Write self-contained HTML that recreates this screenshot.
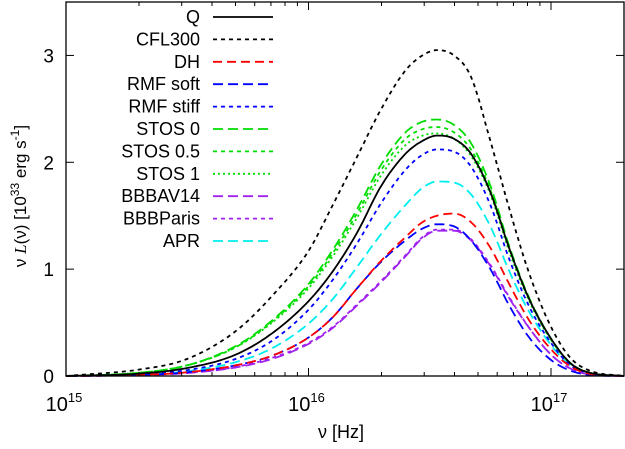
<!DOCTYPE html>
<html><head><meta charset="utf-8"><style>
body{margin:0;background:#fff}
svg text{font-family:"Liberation Sans",sans-serif;fill:#000}
</style></head><body>
<svg id="chart" width="625" height="444" viewBox="0 0 625 444" xmlns="http://www.w3.org/2000/svg">
<g id="curves"></g>
<rect x="66" y="2" width="558" height="374" fill="none" stroke="#000" stroke-width="1.3"/>
<g id="ticks"></g>
<g id="legend"></g>
<text x="341" y="438" font-size="18" text-anchor="middle">ν [Hz]</text>
<text transform="translate(26,196) rotate(-90)" font-size="17" text-anchor="middle">ν <tspan font-family="Liberation Serif" font-style="italic">L</tspan>(ν) [10<tspan font-size="12" dy="-7">33</tspan><tspan dy="7"> erg s</tspan><tspan font-size="12" dy="-7">-1</tspan><tspan dy="7">]</tspan></text>
</svg>
<script>
const logNu = [15,15.3,15.5,15.7,15.85,16,16.1,16.2,16.3,16.4,16.47,16.53,16.6,16.67,16.75,16.83,16.91,17,17.08,17.16,17.3];
const seriesNames = ["Q","CFL300","DH","RMF soft","RMF stiff","STOS 0","STOS 0.5","STOS 1","BBBAV14","BBBParis","APR"];
const vQ       = [0,0.022,0.075,0.2,0.4,0.7,0.98,1.34,1.78,2.08,2.2,2.25,2.22,2.08,1.72,1.18,0.72,0.35,0.12,0.03,0];
const vCFL300  = [0,0.06,0.16,0.42,0.75,1.17,1.6,2.05,2.5,2.86,3.0,3.05,3.0,2.8,2.2,1.55,0.96,0.46,0.17,0.05,0];
const vDH      = [0,0.01,0.035,0.1,0.19,0.36,0.55,0.82,1.08,1.3,1.44,1.5,1.52,1.44,1.2,0.85,0.52,0.25,0.09,0.02,0];
const vRMFsoft = [0,0.01,0.035,0.1,0.19,0.36,0.55,0.82,1.07,1.27,1.38,1.42,1.4,1.27,1.0,0.65,0.36,0.15,0.05,0.01,0];
const vRMFstiff= [0,0.016,0.055,0.16,0.33,0.62,0.9,1.24,1.62,1.93,2.07,2.12,2.1,1.96,1.6,1.08,0.65,0.31,0.1,0.025,0];
const vSTOS0   = [0,0.03,0.1,0.28,0.52,0.86,1.18,1.56,1.98,2.28,2.38,2.4,2.35,2.18,1.78,1.2,0.73,0.35,0.12,0.03,0];
const vSTOS05  = [0,0.03,0.1,0.27,0.51,0.84,1.15,1.52,1.93,2.22,2.31,2.33,2.28,2.12,1.74,1.18,0.72,0.34,0.12,0.03,0];
const vSTOS1   = [0,0.03,0.1,0.27,0.5,0.82,1.12,1.48,1.88,2.16,2.25,2.27,2.22,2.06,1.7,1.15,0.7,0.34,0.12,0.03,0];
const vAV14    = [0,0.008,0.028,0.08,0.16,0.3,0.45,0.66,0.88,1.12,1.29,1.36,1.36,1.27,1.03,0.72,0.45,0.2,0.07,0.015,0];
const vParis   = [0,0.009,0.03,0.085,0.17,0.31,0.46,0.67,0.89,1.13,1.3,1.37,1.37,1.28,1.04,0.73,0.45,0.2,0.07,0.015,0];
const vAPR     = [0,0.013,0.045,0.13,0.26,0.49,0.72,1.02,1.33,1.6,1.76,1.82,1.81,1.7,1.4,0.97,0.6,0.29,0.1,0.025,0];
const yTicks = [0,1,2,3];
const xDecades = [15,16,17];

const seriesVals=[vQ,vCFL300,vDH,vRMFsoft,vRMFstiff,vSTOS0,vSTOS05,vSTOS1,vAV14,vParis,vAPR];
const styles=[["#000","",1.8],["#000","4,4",1.8],["#f00","9,5",1.8],["#00f","10,5",1.8],["#00f","4,4",1.8],["#0d0","10,5",1.8],["#0d0","4,4",1.8],["#0d0","2,3",1.8],["#a020f0","10,5",1.8],["#a020f0","4,4",1.8],["#0ee","10,5",1.8]];
const NS="http://www.w3.org/2000/svg";
const X0=66,X1=624,Y0=376,Y1=2,LMIN=15,LMAX=15+Math.log10(200),VMAX=3.5;
const xs=l=>X0+(l-LMIN)/(LMAX-LMIN)*(X1-X0);
const ys=v=>Y0-v/VMAX*(Y0-Y1);
function mk(t,a,p){const e=document.createElementNS(NS,t);for(const k in a)e.setAttribute(k,a[k]);p.appendChild(e);return e;}
function pathFor(vals){
  const n=logNu.length,x=logNu,y=vals,d=[],m=new Array(n);
  for(let i=0;i<n-1;i++)d.push((y[i+1]-y[i])/(x[i+1]-x[i]));
  m[0]=d[0];m[n-1]=d[n-2];
  for(let i=1;i<n-1;i++){m[i]=(d[i-1]*d[i]<=0)?0:(d[i-1]+d[i])/2;}
  for(let i=0;i<n-1;i++){
    if(d[i]===0){m[i]=0;m[i+1]=0;continue;}
    const a=m[i]/d[i],b=m[i+1]/d[i],s=a*a+b*b;
    if(s>9){const t=3/Math.sqrt(s);m[i]=t*a*d[i];m[i+1]=t*b*d[i];}
  }
  let p="";
  for(let i=0;i<n-1;i++){
    const h=x[i+1]-x[i];
    for(let k=0;k<=12;k++){
      if(i>0&&k===0)continue;
      const t=k/12,t2=t*t,t3=t2*t;
      const v=(2*t3-3*t2+1)*y[i]+(t3-2*t2+t)*h*m[i]+(-2*t3+3*t2)*y[i+1]+(t3-t2)*h*m[i+1];
      p+=(p?"L":"M")+xs(x[i]+t*h).toFixed(1)+","+ys(Math.max(0,v)).toFixed(1);
    }
  }
  return p;
}
const cg=document.getElementById("curves");
for(let s=seriesVals.length-1;s>=0;s--){
  const st=styles[s];
  const p=mk("path",{d:pathFor(seriesVals[s]),fill:"none",stroke:st[0],"stroke-width":st[2],"stroke-dasharray":st[1]},cg);
  
  
}
const tg=document.getElementById("ticks");
yTicks.forEach(v=>{
  const y=ys(v);
  mk("line",{x1:X0,x2:X0+8,y1:y,y2:y,stroke:"#000"},tg);
  mk("line",{x1:X1-8,x2:X1,y1:y,y2:y,stroke:"#000"},tg);
  const t=mk("text",{x:X0-12,y:y+7,"font-size":"19","text-anchor":"end"},tg);
  t.textContent=v;
  
  
});
for(let d=15;d<=17;d++){
  for(let m=1;m<=9;m++){
    const l=d+Math.log10(m); if(l>LMAX+1e-6)continue;
    const x=xs(l),len=m===1?8:4;
    mk("line",{x1:x,x2:x,y1:Y0,y2:Y0-len,stroke:"#000"},tg);
    mk("line",{x1:x,x2:x,y1:Y1,y2:Y1+len,stroke:"#000"},tg);
  }
}
xDecades.forEach(d=>{
  const t=mk("text",{x:xs(d)-2,y:411,"font-size":"20","text-anchor":"middle"},tg);
  t.innerHTML='10<tspan font-size="13" dy="-9">'+d+'</tspan>';
  
  
});
const lg=document.getElementById("legend");
seriesNames.forEach((n,i)=>{
  const y=17+i*22.4,st=styles[i];
  const t=mk("text",{x:200,y:y+6,"font-size":"18","text-anchor":"end"},lg);
  t.textContent=n;
  
  
  const l=mk("line",{x1:213,x2:273,y1:y,y2:y,stroke:st[0],"stroke-width":st[2],"stroke-dasharray":st[1]},lg);
  
  
});
</script>
</body></html>
